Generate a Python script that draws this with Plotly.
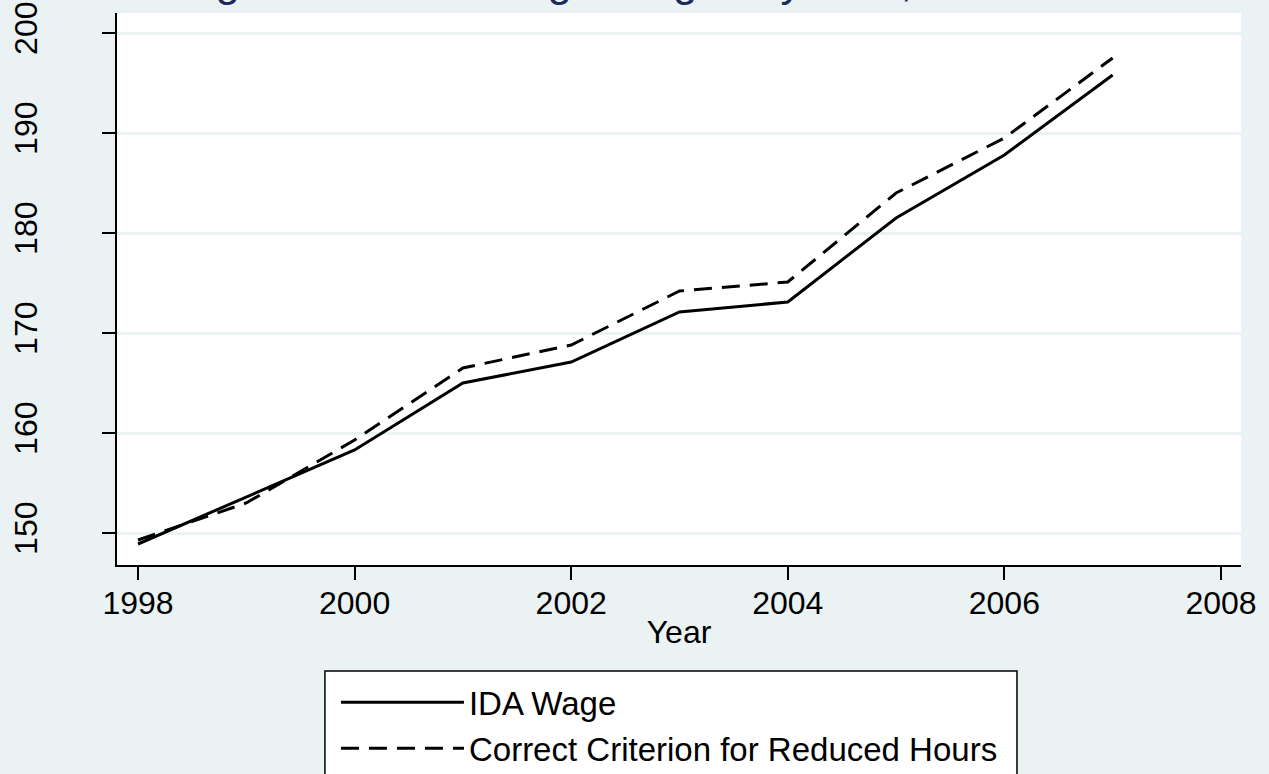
import plotly.graph_objects as go

years = [1998, 1999, 2000, 2001, 2002, 2003, 2004, 2005, 2006, 2007]
ida_wage = [148.9, 153.6, 158.3, 165.0, 167.1, 172.1, 173.1, 181.5, 187.8, 195.8]
correct_criterion = [149.3, 153.0, 159.3, 166.5, 168.8, 174.2, 175.1, 184.0, 189.5, 197.5]
x_ticks = [1998, 2000, 2002, 2004, 2006, 2008]
y_ticks = [150, 160, 170, 180, 190, 200]
title_text = "IDA Wage and the Average Wages by Year, 1998-2007"

BG = "#EAF2F3"
FONT = "Liberation Sans, Arial, sans-serif"

fig = go.Figure()
fig.add_trace(go.Scatter(x=years, y=ida_wage, mode="lines", name="IDA Wage",
                         line=dict(color="black", width=3)))
fig.add_trace(go.Scatter(x=years, y=correct_criterion, mode="lines",
                         name="Correct Criterion for Reduced Hours",
                         line=dict(color="black", width=3, dash="18px,10px")))

fig.update_layout(
    width=1269, height=774,
    paper_bgcolor=BG, plot_bgcolor="white",
    margin=dict(l=117, r=28, t=13, b=209, autoexpand=False),
    font=dict(family=FONT, size=32, color="black"),
    showlegend=True,
    legend=dict(x=0.1948, y=-0.198, xanchor="left", yanchor="top",
                bgcolor="rgba(0,0,0,0)", borderwidth=0,
                font=dict(size=33), itemwidth=123, tracegroupgap=0),
    shapes=[dict(type="rect", xref="paper", yref="paper",
                 x0=0.185, x1=0.8007, y0=-0.192, y1=-0.43,
                 fillcolor="white", line=dict(color="black", width=1.5), layer="below")],
    annotations=[dict(text=title_text, xref="paper", yref="paper",
                      x=-0.0454, y=1.0, xanchor="left", yanchor="bottom", yshift=6,
                      showarrow=False, font=dict(size=44, color="#1a2b5c", family=FONT))],
)
fig.update_xaxes(range=[1997.806, 2008.185], tickvals=x_ticks, showgrid=False,
                 showline=True, linecolor="black", linewidth=1.5,
                 ticks="outside", ticklen=13, tickwidth=1.5, tickcolor="black",
                 ticklabelstandoff=-4,
                 title=dict(text="Year", standoff=0, font=dict(size=32)), zeroline=False)
fig.update_yaxes(range=[146.8, 202.0], tickvals=y_ticks, showgrid=True,
                 gridcolor=BG, gridwidth=3,
                 showline=True, linecolor="black", linewidth=1.5,
                 ticks="outside", ticklen=13, tickwidth=1.5, tickcolor="black",
                 tickangle=-90, ticklabelstandoff=52, zeroline=False)

fig.write_html("out.html", config={"displayModeBar": False},
               post_script="document.body.style.margin='0';document.body.style.background='#EAF2F3';")
